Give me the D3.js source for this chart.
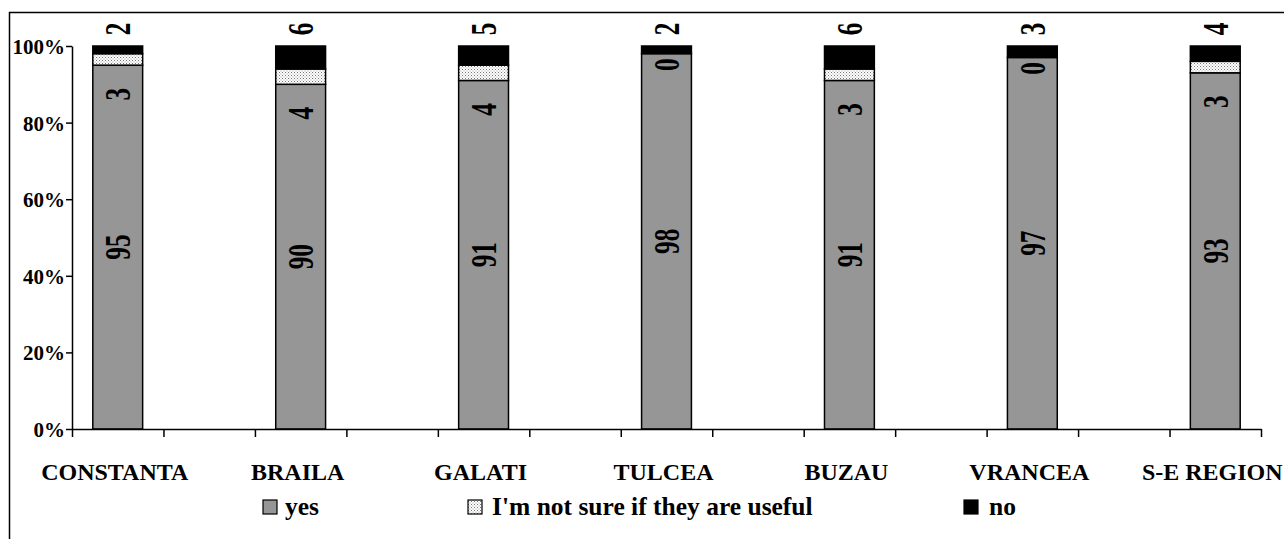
<!DOCTYPE html>
<html>
<head>
<meta charset="utf-8">
<script src="https://cdn.jsdelivr.net/npm/d3@7"></script>
<style>
  html, body { margin: 0; padding: 0; background: #fff; }
  svg { display: block; }
  text { font-family: "Liberation Serif", "Times New Roman", serif; font-weight: bold; fill: #000; }
</style>
</head>
<body>
<svg id="chart" width="1284" height="539"></svg>
<script>
// Share of answers per county (percent)
const categories = ["CONSTANTA", "BRAILA", "GALATI", "TULCEA", "BUZAU", "VRANCEA", "S-E REGION"];
const yesValues = [95, 90, 91, 98, 91, 97, 93];
const notSureValues = [3, 4, 4, 0, 3, 0, 3];
const noValues = [2, 6, 5, 2, 6, 3, 4];
const yTickValues = [0, 20, 40, 60, 80, 100];
const seriesKeys = ["yes", "notSure", "no"];
const seriesNames = ["yes", "I'm not sure if they are useful", "no"];

const svg = d3.select("#chart");
const W = 1284, H = 539;

// dotted fill for the "not sure" segment
const defs = svg.append("defs");
const pat = defs.append("pattern")
  .attr("id", "dots").attr("patternUnits", "userSpaceOnUse")
  .attr("width", 3).attr("height", 3);
pat.append("rect").attr("width", 3).attr("height", 3).attr("fill", "#fff");
pat.append("rect").attr("x", 0).attr("y", 0).attr("width", 1).attr("height", 1).attr("fill", "#777");
pat.append("rect").attr("x", 1.5).attr("y", 1.5).attr("width", 1).attr("height", 1).attr("fill", "#999");

const fills = { yes: "#969696", notSure: "url(#dots)", no: "#000" };

// outer frame
svg.append("rect")
  .attr("x", 9.5).attr("y", 12.5).attr("width", W + 20).attr("height", H + 20)
  .attr("fill", "none").attr("stroke", "#000").attr("stroke-width", 1.5);

// categories sit in every other slot of the axis
const slotDomain = categories.flatMap((c, i) => i === 0 ? [c] : ["gap" + i, c]);
const plotLeft = 72, plotRight = 1261, plotTop = 46, plotBottom = 429;

const x = d3.scaleBand().domain(slotDomain).range([plotLeft, plotRight]).padding(0);
const xEdges = d3.scaleLinear().domain([0, slotDomain.length]).range([plotLeft, plotRight]);
const y = d3.scaleLinear().domain([0, 100]).range([plotBottom, plotTop]);

const rows = categories.map((c, i) => ({
  category: c, yes: yesValues[i], notSure: notSureValues[i], no: noValues[i]
}));
const stacked = d3.stack().keys(seriesKeys)(rows);

const barW = x.bandwidth() * 0.545;
const cx = d => x(d.data.category) + x.bandwidth() / 2;

// bars
const layers = svg.append("g").selectAll("g").data(stacked).join("g")
  .attr("fill", s => fills[s.key]);
layers.selectAll("rect").data(s => s).join("rect")
  .attr("x", d => cx(d) - barW / 2)
  .attr("y", d => y(d[1]))
  .attr("width", barW)
  .attr("height", d => y(d[0]) - y(d[1]))
  .attr("stroke", "#000").attr("stroke-width", 1.5);

// axes
const yAxis = svg.append("g")
  .attr("transform", `translate(${plotLeft},0)`)
  .call(d3.axisLeft(y).tickValues(yTickValues).tickFormat(d => d + "%").tickSize(6).tickSizeOuter(0).tickPadding(1));
yAxis.selectAll("text").attr("font-size", 21).attr("dy", "0.36em")
  .style("font-family", "'Liberation Serif', serif").style("font-weight", "bold");

const xAxis = svg.append("g")
  .attr("transform", `translate(0,${plotBottom})`)
  .call(d3.axisBottom(xEdges).tickValues(d3.range(slotDomain.length + 1)).tickFormat("").tickSize(8).tickSizeOuter(0));

svg.selectAll(".domain, .tick line").attr("stroke", "#000").attr("stroke-width", 1.5);

// category labels
svg.append("g").selectAll("text").data(categories).join("text")
  .attr("x", c => x(c) + x.bandwidth() / 2 - 3)
  .attr("y", 480)
  .attr("text-anchor", "middle")
  .attr("font-size", 24)
  .text(c => c);

// value labels, rotated
function vlabel(g, px, py, txt) {
  g.append("text")
    .attr("transform", `translate(${px},${py}) rotate(-90) scale(0.7,1)`)
    .attr("text-anchor", "middle")
    .attr("dy", "0.35em")
    .attr("font-size", 36)
    .text(txt);
}
const labelG = svg.append("g");
stacked[0].forEach(d => vlabel(labelG, cx(d), y((d[0] + d[1]) / 2), d.data.yes));
stacked[1].forEach(d => {
  const off = d.data.notSure > 0 ? 29 : 11;
  vlabel(labelG, cx(d), y(d[0]) + off, d.data.notSure);
});
stacked[2].forEach(d => vlabel(labelG, cx(d), y(d[1]) - 17, d.data.no));

// legend
const legendItems = [
  { key: "yes", sx: 263, tx: 285 },
  { key: "notSure", sx: 468, tx: 492 },
  { key: "no", sx: 964, tx: 989 }
];
const lg = svg.append("g");
legendItems.forEach((it, i) => {
  lg.append("rect").attr("x", it.sx).attr("y", 500).attr("width", 14).attr("height", 14)
    .attr("fill", fills[it.key]).attr("stroke", "#000").attr("stroke-width", 1.2);
  lg.append("text").attr("x", it.tx).attr("y", 515).attr("font-size", 25.5).text(seriesNames[i]);
});
</script>
</body>
</html>
